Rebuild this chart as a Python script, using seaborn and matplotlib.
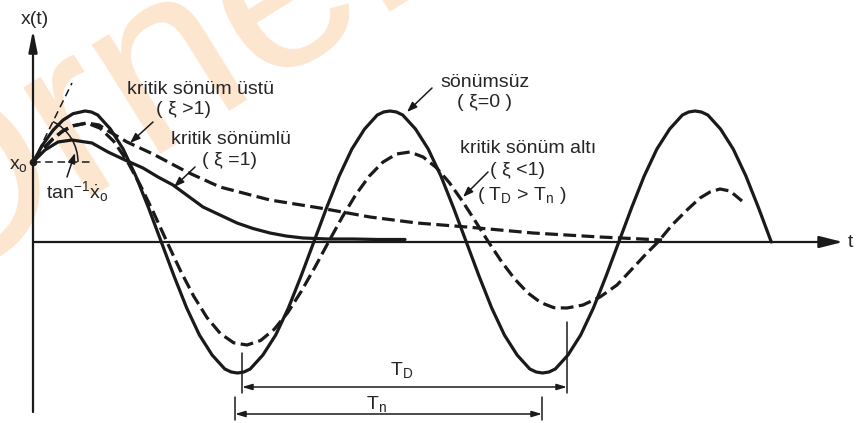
import numpy as np
import matplotlib
matplotlib.use("Agg")
import matplotlib.pyplot as plt
from matplotlib.patches import Arc
import seaborn as sns

# Response curves x(t) for a free vibration, t measured from the x(t) axis,
# x measured from the t axis (one unit = one pixel on the figure).

# undamped (xi = 0)
undamped_t = [0, 10, 20, 30, 40, 52.0, 58.4, 64.7, 77.4, 90.1, 102.8, 115.6, 128.3, 141.0,
              153.7, 166.4, 179.1, 191.8, 198.2, 204.5, 210.9, 217.2, 229.9, 242.7, 255.4, 268.1,
              280.8, 293.5, 306.2, 318.9, 331.6, 344.3, 350.6, 357.0, 363.4, 369.7, 382.5, 395.2,
              407.9, 420.6, 433.3, 446.0, 458.7, 471.4, 484.1, 496.8, 503.2, 509.6, 516.0, 522.3,
              535.0, 547.7, 560.4, 573.1, 585.8, 598.5, 611.2, 623.9, 636.7, 649.4,
              655.7, 662.1, 668.4, 674.8, 687.5, 700.2, 712.9, 725.6, 738.3]
undamped_x = [80, 97.7, 111.7, 121.9, 128.3, 131, 130, 127, 113, 93, 66, 34, 0, -34,
              -66, -93, -113, -127, -130, -131, -130, -127, -113, -93, -66, -34,
              0, 34, 66, 93, 113, 127, 130, 131, 130, 127, 113, 93,
              66, 34, 0, -34, -66, -93, -113, -127, -130, -131, -130, -127,
              -113, -93, -66, -34, 0, 34, 66, 93, 113, 127,
              130, 131, 130, 127, 113, 93, 66, 34, 0]

# underdamped (xi < 1)
under_t = [0, 10, 20, 30, 40, 54.0, 67.3, 80.7, 94.0, 107.3, 120.7, 134.0, 147.3,
           160.7, 174.0, 187.3, 200.7, 214.0, 227.6, 241.2, 254.8, 268.3, 281.9,
           295.5, 309.1, 322.7, 336.3, 349.8, 363.4, 377.0, 390.1, 403.2, 416.3,
           429.3, 442.4, 455.5, 468.6, 481.7, 494.8, 507.8, 520.9, 534.0, 550,
           567, 584, 600, 613, 625, 639, 654, 667, 677, 687, 697, 709]
under_x = [80, 93.1, 103.5, 111.3, 116.4, 119, 113.7, 100.7, 81.3, 56.8, 29.1, 0, -28.4,
           -54.2, -75.6, -91.5, -100.8, -103, -98.5, -87.3, -70.5, -49.3, -25.3,
           0, 24.7, 47.2, 65.9, 79.8, 88, 90, 85, 74.5, 59.4,
           41, 20.7, 0, -19.7, -37, -50.9, -60.6, -65.7, -66, -63,
           -55, -43, -26, -12, 0, 17, 32, 44, 50, 53, 51, 41]

# overdamped (xi > 1)
over_t = [0, 10, 20, 30, 40, 54, 66, 77, 94, 120, 154, 187, 237, 287, 337, 384,
          434, 500, 567, 629]
over_x = [80, 93, 103, 111, 116, 119, 117, 110, 100, 88, 70, 55, 42, 34, 25, 19,
          15, 9, 5, 2]

# critically damped (xi = 1)
crit_t = [0, 12, 25, 39, 59, 75, 92, 110, 125, 140, 155, 170, 187, 204, 220, 237,
          253, 270, 295, 320, 345, 372]
crit_x = [80, 92, 100, 102, 99, 90, 82, 74, 65, 57, 46, 35, 27, 19, 13.5, 9,
          6, 4, 3, 3, 2.5, 2.5]

x0 = 80                  # initial displacement
tangent_end = (39, 159)  # end of the initial-slope line
Td_span = (209, 534)     # damped period marks
Tn_span = (202, 509)     # natural period marks

sns.set_theme(style="white")
plt.rcParams["font.family"] = ["Liberation Sans", "DejaVu Sans"]
plt.rcParams["mathtext.fontset"] = "custom"
plt.rcParams["mathtext.rm"] = "Liberation Sans"
plt.rcParams["mathtext.it"] = "Liberation Sans:italic"
plt.rcParams["mathtext.default"] = "regular"

fig = plt.figure(figsize=(8.57, 4.23), dpi=100)
ax = fig.add_axes([0, 0, 1, 1])
ax.set_xlim(-33, 824)
ax.set_ylim(-181, 242)
ax.axis("off")

# faint watermark
ax.text(-117, -57, "Örnek", fontsize=175, color="#fde6cf", rotation=32,
        rotation_mode="anchor", ha="left", va="baseline", zorder=0)

# coordinate axes
ax.annotate("", xy=(0, 212), xytext=(0, -170),
            arrowprops=dict(arrowstyle="-|>,head_length=0.9,head_width=0.18",
                            mutation_scale=14.4, lw=1.6, color="k",
                            shrinkA=0, shrinkB=0), zorder=3)
ax.annotate("", xy=(810, 0), xytext=(0, 0),
            arrowprops=dict(arrowstyle="-|>,head_length=1.0,head_width=0.25",
                            mutation_scale=14.4, lw=1.6, color="k",
                            shrinkA=0, shrinkB=0), zorder=3)

fs = 14
ax.text(2, 223, "x(t)", fontsize=fs, ha="center", va="center")
ax.text(815, 0, "t", fontsize=fs, ha="left", va="center")

lw = 2.3
dash = (0, (4, 1.7))
sns.lineplot(x=undamped_t, y=undamped_x, sort=False, estimator=None, color="k",
             linewidth=lw, ax=ax, zorder=4)
sns.lineplot(x=crit_t, y=crit_x, sort=False, estimator=None, color="k",
             linewidth=lw, ax=ax, zorder=4)
sns.lineplot(x=under_t, y=under_x, sort=False, estimator=None, color="k",
             linewidth=lw, linestyle=dash, ax=ax, zorder=5)
sns.lineplot(x=over_t, y=over_x, sort=False, estimator=None, color="k",
             linewidth=lw, linestyle=dash, ax=ax, zorder=5)

# initial conditions: x0, slope line and angle
ax.plot([0, tangent_end[0]], [x0, tangent_end[1]], color="k", lw=1.1,
        linestyle=(0, (5, 3)), zorder=3)
ax.plot([0, 59], [x0, x0], color="k", lw=1.1, linestyle=(0, (5, 3)), zorder=3)
ax.plot([0], [x0], marker="o", ms=4.5, color="k", zorder=6)
slope_deg = np.degrees(np.arctan2(tangent_end[1] - x0, tangent_end[0]))
ax.add_patch(Arc((0, x0), 90, 90, theta1=0, theta2=slope_deg, color="k", lw=1.1,
                 zorder=3))
ax.text(-15, 77, r"x$_\mathrm{o}$", fontsize=fs, ha="center", va="center")
ax.text(44, 50, r"tan$^{-1}\dot{x}_\mathrm{o}$", fontsize=fs, ha="center", va="center")

pointer = dict(arrowstyle="-|>,head_length=0.6,head_width=0.22", mutation_scale=10,
               lw=1.1, color="k", shrinkA=0, shrinkB=0)
ax.annotate("", xy=(42, 89), xytext=(34, 65), arrowprops=pointer)

# curve labels
ax.text(168, 153, "kritik sönüm üstü", fontsize=fs, ha="center", va="center")
ax.text(151, 133, "( ξ >1)", fontsize=fs, ha="center", va="center")
ax.annotate("", xy=(97, 99), xytext=(120, 120), arrowprops=pointer)

ax.text(198, 103, "kritik sönümlü", fontsize=fs, ha="center", va="center")
ax.text(197, 82, "( ξ =1)", fontsize=fs, ha="center", va="center")
ax.annotate("", xy=(141, 55), xytext=(162, 75), arrowprops=pointer)

ax.text(452, 160, "sönümsüz", fontsize=fs, ha="center", va="center")
ax.text(452, 140, "( ξ=0 )", fontsize=fs, ha="center", va="center")
ax.annotate("", xy=(374, 130), xytext=(399, 154), arrowprops=pointer)

ax.text(495, 94, "kritik sönüm altı", fontsize=fs, ha="center", va="center")
ax.text(484, 72, "( ξ <1)", fontsize=fs, ha="center", va="center")
ax.text(489, 47, r"( T$_D$ > T$_n$ )", fontsize=fs, ha="center", va="center")
ax.annotate("", xy=(430, 45), xytext=(455, 70), arrowprops=pointer)

# period dimensions
dim = dict(arrowstyle="<|-|>,head_length=0.6,head_width=0.18", mutation_scale=10,
           lw=1.1, color="k", shrinkA=0, shrinkB=0)
ax.annotate("", xy=(Td_span[1], -145), xytext=(Td_span[0], -145), arrowprops=dim)
ax.plot([Td_span[0], Td_span[0]], [-111, -151], color="k", lw=1.1)
ax.plot([Td_span[1], Td_span[1]], [-80, -151], color="k", lw=1.1)
ax.text(369, -128, r"T$_D$", fontsize=fs, ha="center", va="center")

ax.annotate("", xy=(Tn_span[1], -172), xytext=(Tn_span[0], -172), arrowprops=dim)
ax.plot([Tn_span[0], Tn_span[0]], [-155, -178], color="k", lw=1.1)
ax.plot([Tn_span[1], Tn_span[1]], [-155, -178], color="k", lw=1.1)
ax.text(343, -162, r"T$_n$", fontsize=fs, ha="center", va="center")

fig.savefig("out.png", dpi=100)
